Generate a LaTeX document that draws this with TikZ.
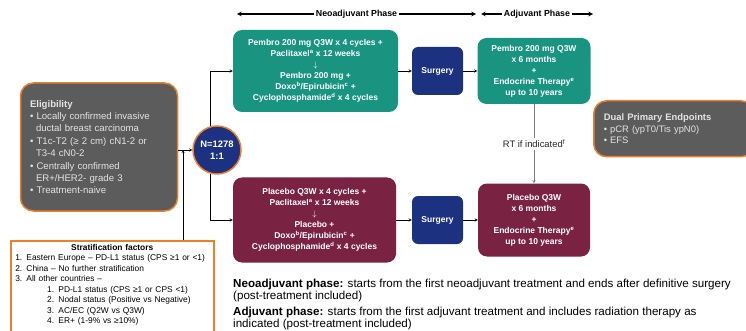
\documentclass[tikz,border=0pt]{standalone}
\usepackage{fontspec}
\setmainfont{Liberation Sans}
\usepackage{tikz}
\usetikzlibrary{arrows.meta}
\usetikzlibrary{positioning}
\definecolor{kteal}{RGB}{24,148,128}
\definecolor{kmaroon}{RGB}{122,34,66}
\definecolor{knavy}{RGB}{28,50,128}
\definecolor{kgrey}{RGB}{92,92,92}
\definecolor{korange}{RGB}{234,128,44}
\definecolor{klight}{RGB}{228,228,228}

\begin{document}
\begin{tikzpicture}[x=1pt,y=-1pt,>=stealth,
   armbox/.style={rounded corners=9pt,text=white,align=center,font=\fontsize{8.5}{11}\selectfont\bfseries},
   pembro/.style={armbox,fill=kteal},
   placebo/.style={armbox,fill=kmaroon},
   surgerybox/.style={armbox,fill=knavy,rounded corners=6pt,minimum width=51pt,minimum height=48pt},
   greybox/.style={draw=korange,line width=1.5pt,fill=kgrey,rounded corners=13pt,align=left,text=klight},
   phase/.style={fill=white,inner sep=2pt,font=\fontsize{8.8}{10}\selectfont\bfseries},
   note/.style={align=left,inner sep=0pt,font=\fontsize{11.6}{12}\selectfont}]
   \useasboundingbox (0,0) rectangle (746,331);

   \node[greybox,minimum width=157pt,minimum height=128pt,text width=138pt,
         font=\fontsize{9.6}{12.4}\selectfont] (elig) at (99,147)
      {\textbf{Eligibility}\\
       • Locally confirmed invasive\\
       \hspace*{6pt}ductal breast carcinoma\\
       • T1c-T2 (≥ 2 cm) cN1-2 or\\
       \hspace*{6pt}T3-4 cN0-2\\
       • Centrally confirmed\\
       \hspace*{6pt}ER+/HER2- grade 3\\
       • Treatment-naive};
   \node[circle,fill=knavy,draw=korange,line width=1.5pt,minimum size=48pt,inner sep=0pt,
         text=white,align=center,font=\fontsize{9.4}{11.5}\selectfont\bfseries] (rand) at (217,150) {N=1278\\1:1};

   \node[pembro,minimum width=165pt,minimum height=82pt] (neo_p) at (315.5,71)
      {Pembro 200 mg Q3W x 4 cycles +\\
       Paclitaxel\textsuperscript{a} x 12 weeks\\
       $\downarrow$\\
       Pembro 200 mg +\\
       Doxo\textsuperscript{b}/Epirubicin\textsuperscript{c} +\\
       Cyclophosphamide\textsuperscript{d} x 4 cycles};
   \node[placebo,minimum width=163pt,minimum height=85pt] (neo_c) at (314.5,220)
      {Placebo Q3W x 4 cycles +\\
       Paclitaxel\textsuperscript{a} x 12 weeks\\
       $\downarrow$\\
       Placebo +\\
       Doxo\textsuperscript{b}/Epirubicin\textsuperscript{c} +\\
       Cyclophosphamide\textsuperscript{d} x 4 cycles};
   \node[surgerybox] (surg_p) at (437.5,71) {Surgery};
   \node[surgerybox] (surg_c) at (437.5,220) {Surgery};
   \node[pembro,minimum width=113pt,minimum height=66pt] (adj_p) at (534,71)
      {Pembro 200 mg Q3W\\ x 6 months\\ +\\ Endocrine Therapy\textsuperscript{e}\\ up to 10 years};
   \node[placebo,minimum width=112pt,minimum height=73pt] (adj_c) at (534,220)
      {Placebo Q3W\\ x 6 months\\ +\\ Endocrine Therapy\textsuperscript{e}\\ up to 10 years};

   \node[greybox,anchor=north west,minimum width=160pt,minimum height=56pt,text width=140pt,
         font=\fontsize{9.4}{11.5}\selectfont] (endp) at (593,100)
      {\textbf{Dual Primary Endpoints}\\
       • pCR (ypT0/Tis ypN0)\\
       • EFS};

   \node[draw=korange,line width=1.5pt,fill=white,anchor=north west,minimum width=203pt,
         minimum height=110pt] (strat) at (10,240) {};
   \node[anchor=north,text width=194pt,inner sep=0pt,font=\fontsize{8.4}{10.5}\selectfont]
         (strat_txt) at ([yshift=-4pt]strat.north)
      {\centering\textbf{Stratification factors}\par
       \raggedright
       1. Eastern Europe – PD-L1 status (CPS ≥1 or <1)\par
       2. China – No further stratification\par
       3. All other countries –\par
       \hspace*{32pt}1. PD-L1 status (CPS ≥1 or CPS <1)\par
       \hspace*{32pt}2. Nodal status (Positive vs Negative)\par
       \hspace*{32pt}3. AC/EC (Q2W vs Q3W)\par
       \hspace*{32pt}4. ER+ (1-9\% vs ≥10\%)\par};

   \coordinate (join) at (183,150);
   \coordinate (neo_l) at (237,14);
   \coordinate (neo_r) at (476,14);
   \coordinate (adj_l) at (481,14);
   \coordinate (adj_r) at (593,14);

   \draw[<->,line width=1.1pt] (neo_l) -- node[phase] (neo_ph) {Neoadjuvant Phase} (neo_r);
   \draw[<->,line width=1.1pt] (adj_l) -- node[phase] (adj_ph) {Adjuvant Phase} (adj_r);

   \draw[->] (elig.east |- rand) -- (rand);
   \draw[->] (strat.north -| join) -- (join);
   \draw[->] (rand.107) |- (neo_p);
   \draw[->] (rand.253) |- (neo_c);
   \draw[->] (neo_p) -- (surg_p);
   \draw[->] (surg_p) -- (adj_p);
   \draw[->] (neo_c) -- (surg_c);
   \draw[->] (surg_c) -- (adj_c);
   \draw[->,gray] (adj_p) -- node[fill=white,text=black!85,inner sep=1.5pt,font=\fontsize{9.4}{10}\selectfont]
         (rt) {RT if indicated\textsuperscript{f}} (adj_c);

   \node[note,anchor=north west] (neo_note) at (233,279)
      {\textbf{Neoadjuvant phase:} starts from the first neoadjuvant treatment and ends after definitive surgery\\
       (post-treatment included)};
   \node[note,below=5pt of neo_note.south west,anchor=north west] (adj_note)
      {\textbf{Adjuvant phase:} starts from the first adjuvant treatment and includes radiation therapy as\\
       indicated (post-treatment included)};
\end{tikzpicture}
\end{document}
